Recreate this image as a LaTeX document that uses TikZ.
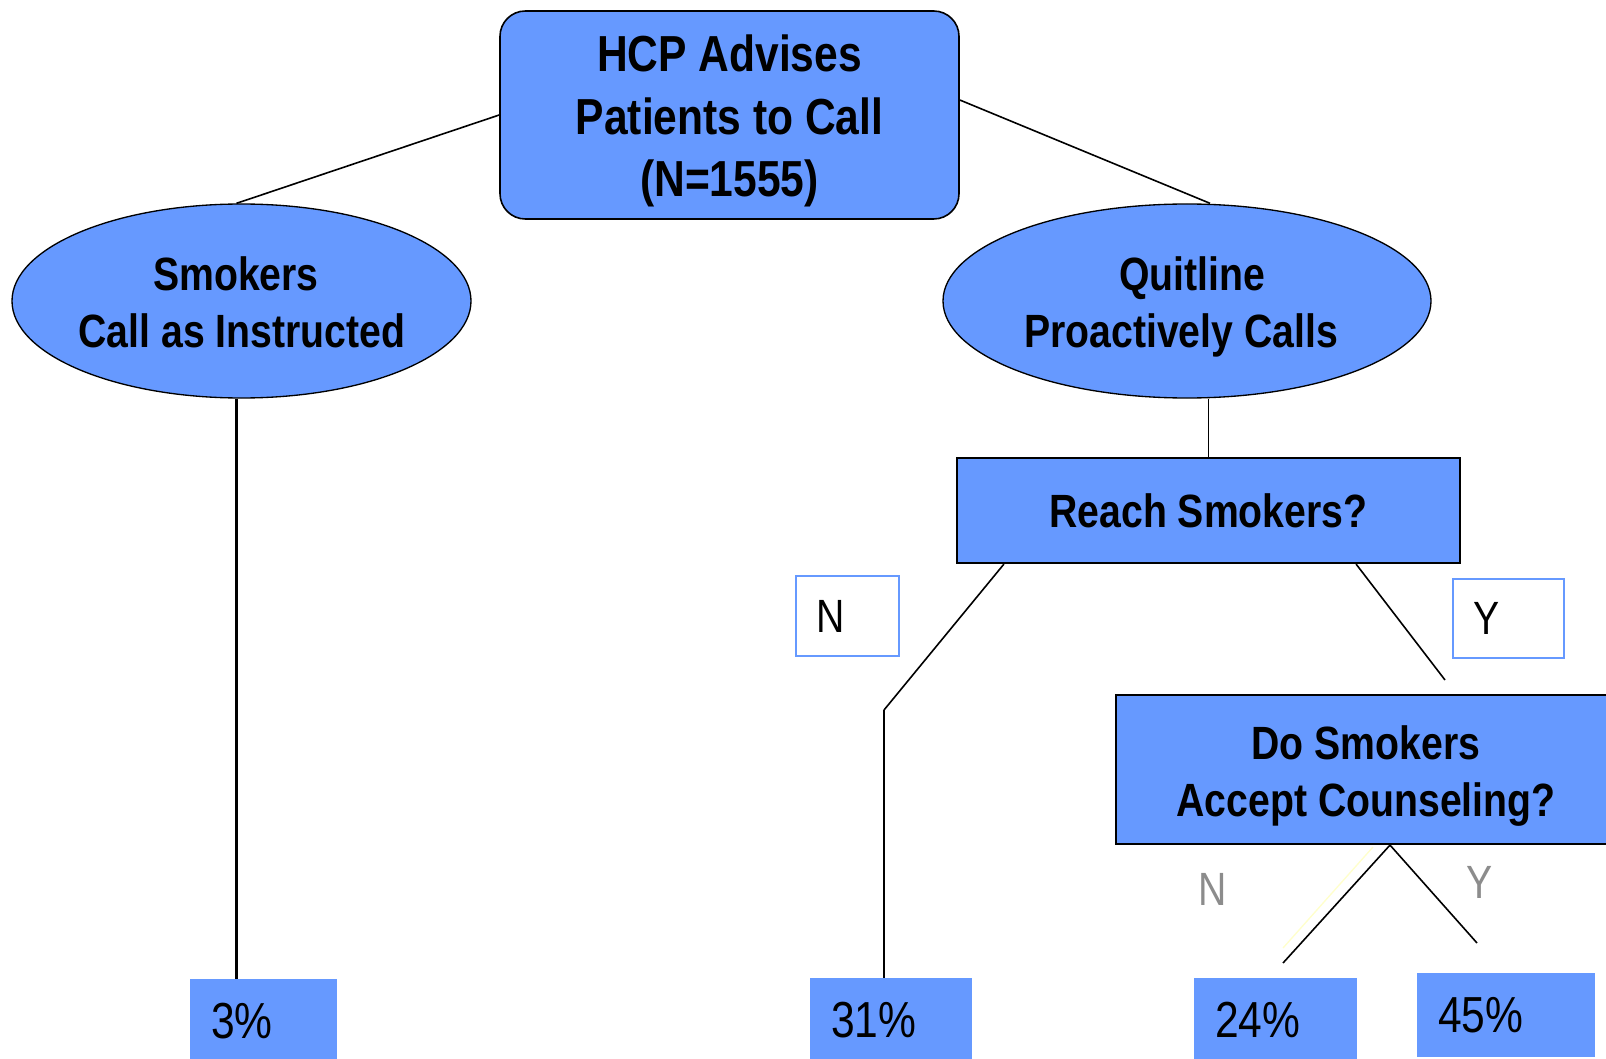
\documentclass[tikz,border=0pt]{standalone}
\usepackage{fontspec}
\newfontfamily\hfont[FakeStretch=0.84]{Liberation Sans}
\usetikzlibrary{shapes.geometric,calc}
\definecolor{boxblue}{HTML}{6699FF}
\definecolor{graytxt}{HTML}{8C8C8C}
\definecolor{paleyel}{HTML}{FFFFCC}
\begin{document}
\begin{tikzpicture}[x=0.75pt,y=-0.75pt,
  headbox/.style={draw=black, line width=1.2pt, fill=boxblue, rounded corners=19pt,
    minimum width=344.25pt, minimum height=156pt, inner sep=0pt},
  headtxt/.style={inner sep=0pt, font=\hfont\bfseries\fontsize{38}{47}\selectfont, align=center},
  oval/.style={ellipse, draw=black, line width=1pt, fill=boxblue, inner sep=0pt},
  qbox/.style={rectangle, draw=black, line width=1.6pt, fill=boxblue, inner sep=0pt,
    font=\hfont\bfseries\fontsize{35}{43}\selectfont, align=center},
  bigtxt/.style={inner sep=0pt, font=\hfont\bfseries\fontsize{35}{43}\selectfont, align=center},
  labbox/.style={draw=boxblue, line width=1.5pt, fill=white, inner xsep=15pt, inner ysep=0pt,
    font=\hfont\fontsize{35}{42}\selectfont, align=left},
  pct/.style={fill=boxblue, inner xsep=15.75pt, inner ysep=0pt, minimum height=63pt,
    font=\hfont\fontsize{38}{44}\selectfont, align=left},
  gtxt/.style={inner sep=0pt, text=graytxt, font=\hfont\fontsize{35}{42}\selectfont},
  conn/.style={draw=black, line width=1.2pt},
  thickconn/.style={draw=black, line width=1.8pt}
]
\useasboundingbox (0,0) rectangle (1606,1059);
\clip (0,0) rectangle (1606,1059);
\fill[white] (0,0) rectangle (1606,1059);

% main nodes
\node[headbox] (top) at (729.5,115) {};
\node[headtxt] (topt) at (729.5,121) {HCP Advises\\Patients to Call\\(N=1555)};
\node[oval, minimum width=344.25pt, minimum height=145.5pt] (e1) at (241.5,301) {};
\node[bigtxt] (e1t) at (242,302) {Smokers\hspace*{9pt}\\Call as Instructed};
\node[oval, minimum width=366pt, minimum height=145.5pt] (e2) at (1187,301) {};
\node[bigtxt] (e2t) at (1181,307) {\hspace*{16.5pt}Quitline\\Proactively Calls};
\node[qbox, minimum width=377.25pt, minimum height=78.75pt] (reach) at (1208.5,510.5) {Reach Smokers?};
\node[qbox, minimum width=373.5pt, minimum height=111.75pt] (do) at (1365,769.5) {};
\node[bigtxt] (dot) at (1366,776) {Do Smokers\\Accept Counseling?};

% answer labels
\node[labbox, minimum height=60pt, text width=47.25pt] (nlab) at (847.5,616) {N};
\node[labbox, minimum height=59.25pt, text width=53.25pt] (ylab) at (1508.5,618.5) {Y};
\node[gtxt, anchor=base west] (gn) at (1198,905) {N};
\node[gtxt, anchor=base west] (gy) at (1466,898) {Y};

% result boxes
\node[pct, text width=78.75pt] (p3) at (263.5,1021) {3\%};
\node[pct, text width=90pt] (p31) at (891,1020) {31\%};
\node[pct, text width=90.75pt] (p24) at (1275.5,1020) {24\%};
\node[pct, text width=101.75pt] (p45) at (1506,1015) {45\%};

% connectors
\draw[conn] (top.west) -- ($(e1.north)+(-5,0)$);
\draw[conn] ($(top.east)+(0,-15)$) -- ($(e2.north)+(23,0)$);
\draw[conn] (reach.north) -- (reach.north |- e2.south);
\coordinate (c1) at ($(e1.south)+(-5,0)$);
\draw[thickconn] (c1) -- (c1 |- p3.north);
\coordinate (rs) at ($(reach.south west)+(48,0)$);
\coordinate (bend) at (884,710);
\draw[conn] (rs) -- (bend);
\draw[thickconn] (bend) -- (bend |- p31.north);
\coordinate (ry) at ($(reach.south east)+(-105,0)$);
\coordinate (yend) at (1445,680);
\draw[conn] (ry) -- (yend);
\coordinate (ya) at (1373,847);
\coordinate (yb) at (1283,948);
\draw[paleyel, line width=1pt] (ya) -- (yb);
\coordinate (ds) at ($(do.south)+(25,0)$);
\coordinate (nend) at (1283,963);
\coordinate (yend2) at (1477,943);
\draw[conn] (nend) -- (ds) -- (yend2);
\end{tikzpicture}
\end{document}
